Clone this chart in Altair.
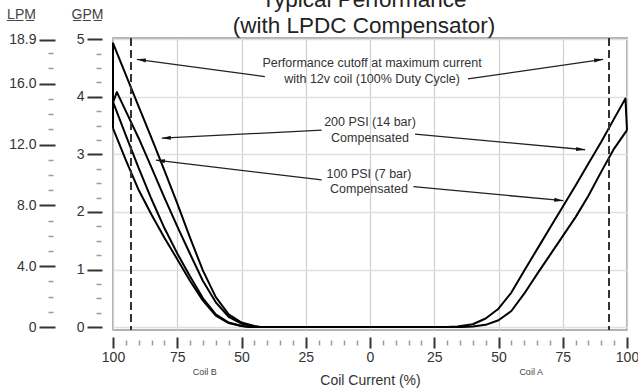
import math
import altair as alt
import pandas as pd

FONT = "Liberation Sans"

# ---------------- data (x = coil current %, Coil B negative; y = GPM) ----------
# Coil B side (four traces)
b1_x = [-100, -100, -95, -90, -85, -80, -75, -70, -65, -60, -55, -50, -45, -42, 0]
b1_y = [3.45, 4.93, 4.38, 3.83, 3.28, 2.72, 2.15, 1.55, 0.98, 0.52, 0.22, 0.08, 0.02, 0.0, 0.0]
b2_x = [-100, -98.5, -95, -90, -85, -80, -75, -70, -65, -60, -55, -50, -45, -43, 0]
b2_y = [3.90, 4.08, 3.75, 3.28, 2.77, 2.25, 1.75, 1.27, 0.80, 0.43, 0.18, 0.06, 0.01, 0.0, 0.0]
b3_x = [-100, -95, -90, -85, -80, -75, -70, -65, -60, -55, -50, -46, 0]
b3_y = [3.91, 3.33, 2.76, 2.22, 1.72, 1.28, 0.88, 0.50, 0.22, 0.08, 0.02, 0.0, 0.0]
b4_x = [-100, -95, -90, -85, -80, -75, -70, -65, -60, -55, -50, -47, 0]
b4_y = [3.45, 2.90, 2.38, 1.95, 1.55, 1.18, 0.80, 0.46, 0.20, 0.07, 0.02, 0.0, 0.0]
# Coil A side (two traces)
a1_x = [0, 30, 34, 40, 45, 50, 55, 60, 65, 70, 75, 80, 85, 90, 95, 99.4, 100]
a1_y = [0.0, 0.0, 0.01, 0.05, 0.15, 0.32, 0.60, 0.98, 1.35, 1.72, 2.09, 2.46, 2.84, 3.22, 3.62, 3.97, 3.42]
a2_x = [0, 36, 40, 45, 50, 55, 60, 65, 70, 75, 80, 85, 90, 95, 100]
a2_y = [0.0, 0.0, 0.01, 0.04, 0.12, 0.28, 0.58, 0.92, 1.25, 1.58, 1.91, 2.28, 2.70, 3.10, 3.42]

cutoff_x = [-93, 93]

# annotation texts
note_text = ["Performance cutoff at maximum current", "with 12v coil (100% Duty Cycle)",
             "200 PSI (14 bar)", "Compensated", "100 PSI (7 bar)", "Compensated"]
note_x = [0.8, 0.8, 0.0, 0.0, -0.4, -0.4]
note_y = [4.58, 4.30, 3.556, 3.29, 2.654, 2.393]

# arrows: start -> tip
arr_x1 = [-40.9, 38.1, -18.8, 17.5, -18.8, 16.9]
arr_y1 = [4.35, 4.31, 3.42, 3.35, 2.555, 2.44]
arr_x2 = [-90.7, 90.7, -81.0, 83.7, -83.3, 75.2]
arr_y2 = [4.65, 4.65, 3.28, 3.08, 2.90, 2.195]

x_major = [-100, -75, -50, -25, 0, 25, 50, 75, 100]
x_minor = [v for v in range(-95, 100, 5) if v % 25 != 0]
gpm_major = [0, 1, 2, 3, 4, 5]
gpm_minor = [k / 4 for k in range(21) if k % 4 != 0]
LPM_PER_GPM = 3.7854
lpm_major = [0, 4, 8, 12, 16, 18.9]
lpm_minor = [1, 2, 3, 5, 6, 7, 9, 10, 11, 13, 14, 15, 17, 18]
coil_label_x = [-64.5, 62.5]

# ---------------- layout ----------------
W, H = 514, 292
X_DOM = [-100, 100]
Y_DOM = [-0.05, 5.02]
xs = alt.Scale(domain=X_DOM, nice=False, zero=False)
ys = alt.Scale(domain=Y_DOM, nice=False, zero=False)
TXT = "#333333"

rows = []
for name, xv, yv in [("b1", b1_x, b1_y), ("b2", b2_x, b2_y), ("b3", b3_x, b3_y),
                     ("b4", b4_x, b4_y), ("a1", a1_x, a1_y), ("a2", a2_x, a2_y)]:
    for i, (a, b) in enumerate(zip(xv, yv)):
        rows.append({"series": name, "i": i, "x": a, "gpm": b})
curves = pd.DataFrame(rows)

curve_layer = alt.Chart(curves).mark_line(color="black", strokeWidth=2, strokeJoin="round").encode(
    x=alt.X("x:Q", scale=xs, axis=alt.Axis(values=x_major, orient="bottom", grid=True, gridColor="#d0d0d0",
                                           gridWidth=1.2, ticks=False, labels=False, domain=False, title=None)),
    y=alt.Y("gpm:Q", scale=ys, axis=alt.Axis(values=gpm_major, orient="left", grid=True, gridColor="#e0e0e0",
                                             gridWidth=1.5, ticks=False, labels=False, domain=False, title=None)),
    detail="series:N",
    order="i:Q",
)

cut_layer = alt.Chart(pd.DataFrame({"x": cutoff_x})).mark_rule(
    color="#333", strokeWidth=2, strokeDash=[8, 4]).encode(
    x=alt.X("x:Q", scale=xs, axis=None))

# x axes
xmaj = alt.Chart(pd.DataFrame({"v": x_major})).mark_point(opacity=0).encode(
    x=alt.X("v:Q", scale=xs, axis=alt.Axis(
        values=x_major, orient="bottom", offset=7, tickSize=11, tickWidth=2, tickColor="#333",
        labelExpr="'' + abs(datum.value)", labelFontSize=14, labelColor=TXT, labelFont=FONT,
        labelPadding=2, labelFlush=False, labelOverlap=False, domain=False, grid=False,
        title="Coil Current (%)", titleFontSize=14, titleFont=FONT, titleFontWeight="normal",
        titleColor=TXT, titlePadding=9)),
    y=alt.value(0))
xmin = alt.Chart(pd.DataFrame({"v": x_minor})).mark_point(opacity=0).encode(
    x=alt.X("v:Q", scale=xs, axis=alt.Axis(
        values=x_minor, orient="bottom", offset=10, tickSize=5, tickWidth=1.5, tickColor="#999",
        labels=False, domain=False, grid=False, title=None)),
    y=alt.value(0))
xcoil = alt.Chart(pd.DataFrame({"v": coil_label_x})).mark_point(opacity=0).encode(
    x=alt.X("v:Q", scale=xs, axis=alt.Axis(
        values=coil_label_x, orient="bottom", offset=7, ticks=False, tickSize=0,
        labelExpr="datum.value < 0 ? 'Coil B' : 'Coil A'", labelFontSize=9, labelColor="#444",
        labelFont=FONT, labelPadding=30, labelFlush=False, domain=False, grid=False, title=None)),
    y=alt.value(0))

# y axes (GPM and LPM share the GPM scale; LPM ticks converted)
ygmaj = alt.Chart(pd.DataFrame({"v": gpm_major})).mark_point(opacity=0).encode(
    y=alt.Y("v:Q", scale=ys, axis=alt.Axis(
        values=gpm_major, orient="left", offset=11, tickSize=15, tickWidth=2, tickColor="#333",
        labelFontSize=14, labelColor=TXT, labelFont=FONT, labelPadding=3, labelFlush=False,
        domain=False, grid=False, title="G\u0332P\u0332M\u0332", titleAngle=0, titleAlign="center",
        titleBaseline="middle", titleX=-15, titleY=-24, titleFontSize=14, titleFont=FONT,
        titleFontWeight="normal", titleColor="#444")),
    x=alt.value(0))
ygmin = alt.Chart(pd.DataFrame({"v": gpm_minor})).mark_point(opacity=0).encode(
    y=alt.Y("v:Q", scale=ys, axis=alt.Axis(
        values=gpm_minor, orient="left", offset=12, tickSize=5, tickWidth=1.5, tickColor="#999",
        labels=False, domain=False, grid=False, title=None)),
    x=alt.value(0))
lmaj_vals = [v / LPM_PER_GPM for v in lpm_major]
lmin_vals = [v / LPM_PER_GPM for v in lpm_minor]
ylmaj = alt.Chart(pd.DataFrame({"v": lmaj_vals})).mark_point(opacity=0).encode(
    y=alt.Y("v:Q", scale=ys, axis=alt.Axis(
        values=lmaj_vals, orient="left", offset=58, tickSize=16, tickWidth=2, tickColor="#333",
        labelExpr=f"datum.value == 0 ? '0' : format(datum.value * {LPM_PER_GPM}, '.1f')",
        labelFontSize=14, labelColor=TXT, labelFont=FONT, labelPadding=3, labelFlush=False,
        domain=False, grid=False, title="L\u0332P\u0332M\u0332", titleAngle=0, titleAlign="center",
        titleBaseline="middle", titleX=-34, titleY=-24, titleFontSize=14, titleFont=FONT,
        titleFontWeight="normal", titleColor="#444")),
    x=alt.value(0))
ylmin = alt.Chart(pd.DataFrame({"v": lmin_vals})).mark_point(opacity=0).encode(
    y=alt.Y("v:Q", scale=ys, axis=alt.Axis(
        values=lmin_vals, orient="left", offset=60, tickSize=5, tickWidth=1.5, tickColor="#999",
        labels=False, domain=False, grid=False, title=None)),
    x=alt.value(0))

# annotations
notes = pd.DataFrame({"x": note_x, "y": note_y, "t": note_text})
note_layer = alt.Chart(notes).mark_text(font=FONT, fontSize=12.5, color=TXT, align="center",
                                         baseline="middle").encode(
    x=alt.X("x:Q", scale=xs, axis=None), y=alt.Y("y:Q", scale=ys, axis=None), text="t:N")

px_x = W / (X_DOM[1] - X_DOM[0])
px_y = H / (Y_DOM[1] - Y_DOM[0])
angles = []
for a, b, c, d in zip(arr_x1, arr_y1, arr_x2, arr_y2):
    dxp = (c - a) * px_x
    dyp = -(d - b) * px_y
    angles.append(math.degrees(math.atan2(dxp, -dyp)) % 360)
arrows = pd.DataFrame({"x1": arr_x1, "y1": arr_y1, "x2": arr_x2, "y2": arr_y2, "ang": angles})
arrow_lines = alt.Chart(arrows).mark_rule(color="#222", strokeWidth=1.3).encode(
    x=alt.X("x1:Q", scale=xs, axis=None), y=alt.Y("y1:Q", scale=ys, axis=None),
    x2="x2:Q", y2="y2:Q")
arrow_heads = alt.Chart(arrows).mark_point(
    shape="M0,0L0.45,2L-0.45,2Z", filled=True, color="#111", opacity=1, size=81, strokeWidth=0).encode(
    x=alt.X("x2:Q", scale=xs, axis=None), y=alt.Y("y2:Q", scale=ys, axis=None),
    angle=alt.Angle("ang:Q", scale=None))

chart = alt.layer(
    curve_layer, cut_layer, xmaj, xmin, xcoil, ygmaj, ygmin, ylmaj, ylmin,
    note_layer, arrow_lines, arrow_heads,
).resolve_axis(x="independent", y="independent").properties(
    width=W, height=H,
    autosize=alt.AutoSizeParams(type="none"),
    padding={"left": 113, "top": 38, "right": 11, "bottom": 61},
    title=alt.TitleParams(["Typical Performance", "(with LPDC Compensator)"], fontSize=22.5, font=FONT,
                          fontWeight="normal", color="#222", anchor="middle", baseline="bottom",
                          offset=1, dx=-6, dy=54, lineHeight=26),
    background="white",
).configure_view(stroke="#999", strokeWidth=1.5)

chart.save("out.html", embed_options={"renderer": "svg", "actions": False})
